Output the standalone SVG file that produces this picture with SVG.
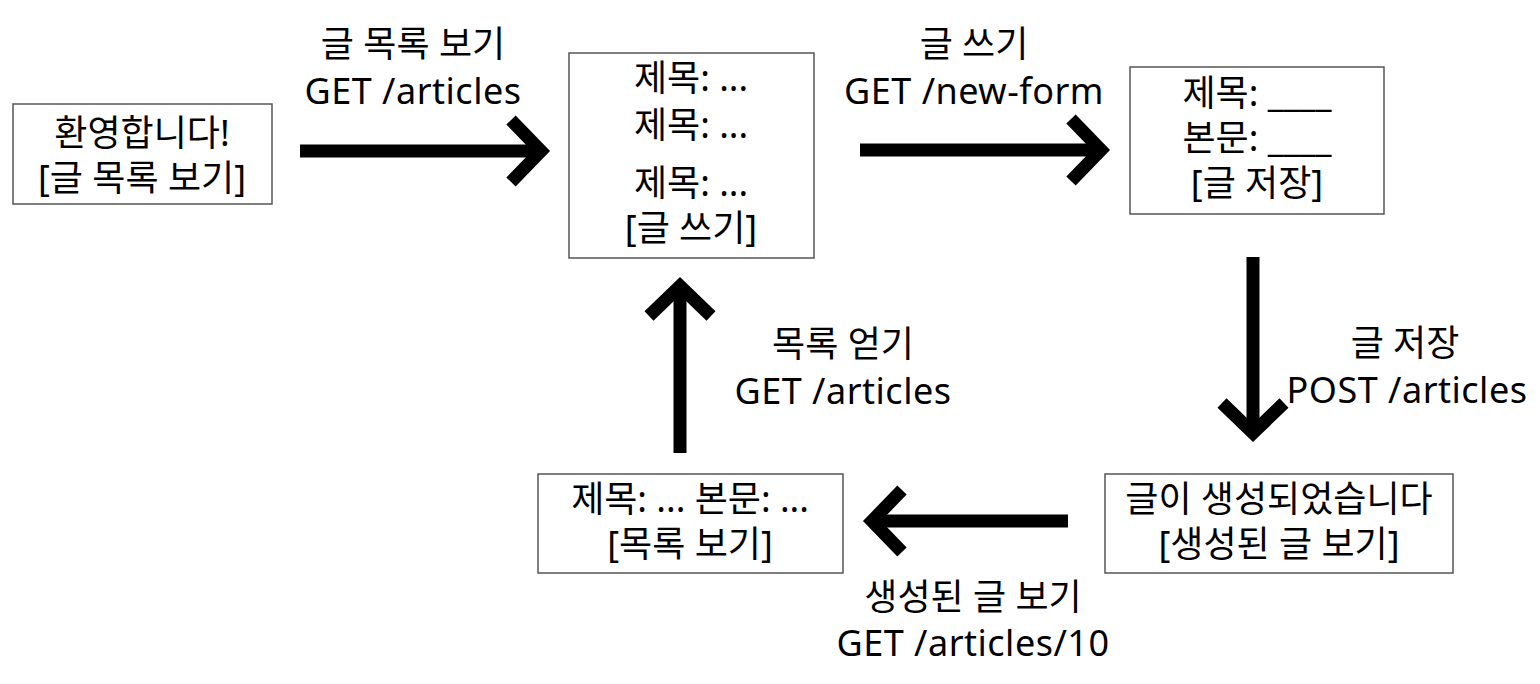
<svg xmlns="http://www.w3.org/2000/svg" width="1540" height="684" viewBox="0 0 1540 684">
<style>
text{font-family:"Noto Sans","Noto Sans CJK KR",sans-serif;font-size:36px;fill:#000;text-anchor:middle}
.lat{letter-spacing:0.5px}
.box{fill:#fff;stroke:#555;stroke-width:1.5}
.shaft{stroke:#000;stroke-width:13;fill:none}
</style>
<defs>
<marker id="chev" markerUnits="userSpaceOnUse" viewBox="-45 -45 60 90" markerWidth="60" markerHeight="90" refX="0" refY="0" orient="auto" overflow="visible">
<path d="M-30,-31 L0,0 L-30,31" fill="none" stroke="#000" stroke-width="13"/>
</marker>
</defs>
<rect width="1540" height="684" fill="#fff"/>
<g id="connectors">
<line class="shaft" x1="300" y1="151" x2="541" y2="151" marker-end="url(#chev)"/>
<line class="shaft" x1="860" y1="150" x2="1101" y2="150" marker-end="url(#chev)"/>
<line class="shaft" x1="1253" y1="257" x2="1253" y2="433" marker-end="url(#chev)"/>
<line class="shaft" x1="1068" y1="521" x2="872" y2="521" marker-end="url(#chev)"/>
<line class="shaft" x1="680" y1="453" x2="680" y2="286" marker-end="url(#chev)"/>
<text x="413" y="57">글 목록 보기</text>
<text class="lat" x="413" y="104">GET /articles</text>
<text x="974" y="57">글 쓰기</text>
<text class="lat" x="974" y="104">GET /new-form</text>
<text x="1405" y="356">글 저장</text>
<text class="lat" x="1407" y="403">POST /articles</text>
<text x="843" y="357">목록 얻기</text>
<text class="lat" x="843" y="404">GET /articles</text>
<text x="973" y="610">생성된 글 보기</text>
<text class="lat" x="973" y="656">GET /articles/10</text>
</g>
<g id="welcome">
<rect class="box" x="13" y="104" width="259" height="100"/>
<text x="142" y="146">환영합니다!</text>
<text x="142" y="191">[글 목록 보기]</text>
</g>
<g id="list">
<rect class="box" x="569" y="53" width="245" height="205"/>
<text x="691" y="91">제목: ...</text>
<text x="691" y="138">제목: ...</text>
<text x="691" y="196">제목: ...</text>
<text x="691" y="241">[글 쓰기]</text>
</g>
<g id="form">
<rect class="box" x="1130" y="67" width="254" height="147"/>
<text x="1257" y="106">제목: ____</text>
<text x="1257" y="151">본문: ____</text>
<text x="1257" y="196">[글 저장]</text>
</g>
<g id="created">
<rect class="box" x="1105" y="474" width="348" height="99"/>
<text x="1279" y="512">글이 생성되었습니다</text>
<text x="1279" y="557">[생성된 글 보기]</text>
</g>
<g id="detail">
<rect class="box" x="538" y="474" width="305" height="99"/>
<text x="690" y="512">제목: ... 본문: ...</text>
<text x="690" y="557">[목록 보기]</text>
</g>
</svg>
